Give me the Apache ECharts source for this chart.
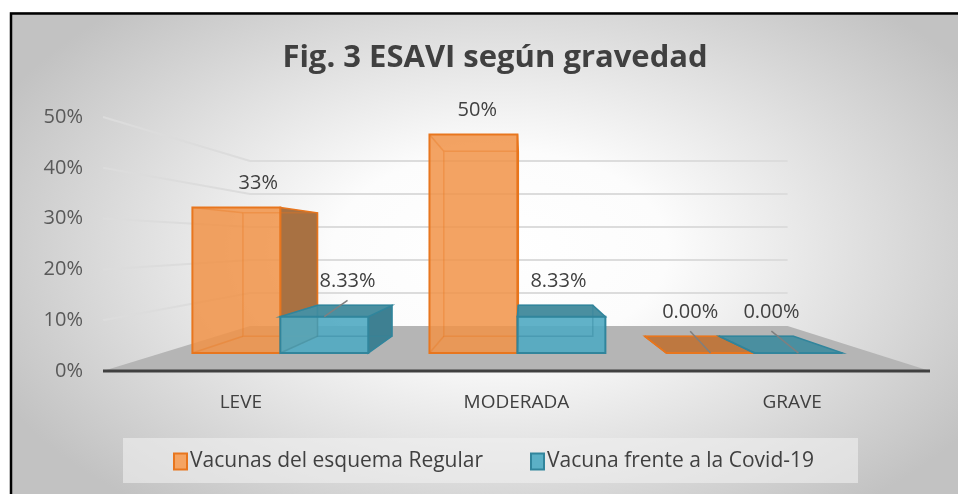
<!DOCTYPE html>
<html>
<head>
<meta charset="utf-8">
<title>ESAVI según gravedad</title>
<script src="https://cdn.jsdelivr.net/npm/echarts@6.0.0/dist/echarts.min.js"></script>
<style>
  html, body { margin: 0; padding: 0; background: #fff; }
  #chart { width: 958px; height: 494px; }
</style>
</head>
<body>
<div id="chart"></div>
<script>
// datos
var categorias = ['LEVE', 'MODERADA', 'GRAVE'];
var regular = [0.3333, 0.5, 0];
var covid = [0.0833, 0.0833, 0];
var etiquetasRegular = ['33%', '50%', '0.00%'];
var etiquetasCovid = ['8.33%', '8.33%', '0.00%'];
var ticksY = [0, 0.1, 0.2, 0.3, 0.4, 0.5];
var nombres = ['Vacunas del esquema Regular', 'Vacuna frente a la Covid-19'];

var FONT = '"Open Sans", "Noto Sans", sans-serif';
// punto de fuga (relativo a la rejilla) y profundidades del falso 3D
var VX = 0.508, VY = 0.495;
var K_FRENTE = 0.14, K_FONDO = 0.2715, K_PARED = 0.35;

var colNaranja = {
  frente: 'rgba(241,147,72,0.85)', borde: '#E8761E', lado: '#A87142',
  tapa: '#BE7840', oculto: 'rgba(232,118,30,0.35)', icono: '#F5A462'
};
var colAzul = {
  frente: 'rgba(80,170,194,0.9)', borde: '#31859C', lado: '#3E8092',
  tapa: '#4A8FA0', oculto: 'rgba(49,133,156,0.4)', icono: '#5BB0C6'
};

function proyectar(p, v, k) {
  return [p[0] + (v[0] - p[0]) * k, p[1] + (v[1] - p[1]) * k];
}

function fuga(cs) {
  return [cs.x + cs.width * VX, cs.y + cs.height * VY];
}

// suelo, paredes y linea del eje
function dibujarEscena(params, api) {
  var cs = params.coordSys;
  var v = fuga(cs);
  var x0 = cs.x, x1 = cs.x + cs.width;
  var y0 = api.coord([0, 0])[1];
  var hijos = [];
  hijos.push({
    type: 'polygon',
    shape: { points: [[x0, y0], proyectar([x0, y0], v, K_PARED), proyectar([x1, y0], v, K_PARED), [x1, y0]] },
    style: { fill: '#b5b5b5' }
  });
  ticksY.forEach(function (t) {
    if (t === 0) return;
    var y = api.coord([0, t])[1];
    var a = proyectar([x0, y], v, K_PARED);
    var b = proyectar([x1, y], v, K_PARED);
    hijos.push({
      type: 'polyline',
      shape: { points: [[x0, y], a, b] },
      style: { stroke: '#dcdcdc', lineWidth: 2, fill: null }
    });
  });
  hijos.push({
    type: 'line',
    shape: { x1: x0, y1: y0, x2: x1, y2: y0 },
    style: { stroke: '#404040', lineWidth: 3 }
  });
  return { type: 'group', children: hijos };
}

// cajas 3D para cada serie (lado -1 = izquierda del grupo, 1 = derecha)
function cajas(col, etiquetas, lado) {
  return function (params, api) {
    var cs = params.coordSys;
    var v = fuga(cs);
    var idx = api.value(0), val = api.value(1);
    var ancho = api.size([1, 0])[0] * 0.371;
    var base = api.coord([idx, 0]);
    var xl = lado < 0 ? base[0] - ancho : base[0];
    var xr = xl + ancho;
    var yb = base[1], yt = api.coord([idx, val])[1];

    function cara(k) {
      return {
        lt: proyectar([xl, yt], v, k), rt: proyectar([xr, yt], v, k),
        rb: proyectar([xr, yb], v, k), lb: proyectar([xl, yb], v, k)
      };
    }
    var f = cara(K_FRENTE), b = cara(K_FONDO);
    var hijos = [];

    if (f.rt[0] < v[0]) {
      hijos.push({ type: 'polygon', shape: { points: [f.rt, b.rt, b.rb, f.rb] },
        style: { fill: col.lado, stroke: col.borde, lineWidth: 1.5 } });
    }
    if (f.lt[0] > v[0]) {
      hijos.push({ type: 'polygon', shape: { points: [f.lt, b.lt, b.lb, f.lb] },
        style: { fill: col.lado, stroke: col.borde, lineWidth: 1.5 } });
    }
    var tapaVisible = f.lt[1] > v[1];
    if (tapaVisible) {
      hijos.push({ type: 'polygon', shape: { points: [f.lt, f.rt, b.rt, b.lt] },
        style: { fill: col.tapa, stroke: col.borde, lineWidth: 1.5 } });
    }
    hijos.push({ type: 'polygon', shape: { points: [f.lt, f.rt, f.rb, f.lb] },
      style: { fill: col.frente, stroke: col.borde, lineWidth: 2 } });
    // aristas ocultas vistas a traves
    hijos.push({ type: 'polyline', shape: { points: [b.lt, b.rt, b.rb, b.lb, b.lt] },
      style: { stroke: col.oculto, lineWidth: 1.5, fill: null } });
    hijos.push({ type: 'polyline', shape: { points: [f.lt, b.lt] }, style: { stroke: col.oculto, lineWidth: 1.5, fill: null } });
    hijos.push({ type: 'polyline', shape: { points: [f.lb, b.lb] }, style: { stroke: col.oculto, lineWidth: 1.5, fill: null } });

    // etiqueta
    var fc = [(f.lt[0] + f.rt[0]) / 2, f.lt[1]];
    var bc = [(b.lt[0] + b.rt[0]) / 2, b.lt[1]];
    var lx = (fc[0] + bc[0]) / 2;
    var ly = Math.min(fc[1], bc[1]) - 24;
    if (tapaVisible && Math.abs(lx - fc[0]) > 8) {
      lx += (lx > fc[0] ? 8 : -6);
      hijos.push({ type: 'line', shape: { x1: fc[0], y1: fc[1], x2: lx, y2: ly + 19 },
        style: { stroke: '#7f7f7f', lineWidth: 1.5 } });
    }
    hijos.push({ type: 'text', style: {
      text: etiquetas[idx], x: lx, y: ly, align: 'center', verticalAlign: 'middle',
      fill: '#404040', fontSize: 20, fontFamily: FONT
    } });
    return { type: 'group', children: hijos };
  };
}

var chart = echarts.init(document.getElementById('chart'));

var option = {
  animation: false,
  title: {
    text: 'Fig. 3 ESAVI según gravedad',
    left: 490,
    textAlign: 'center',
    top: 38,
    textStyle: { fontSize: 31, fontWeight: 'bold', color: '#404040', fontFamily: FONT }
  },
  graphic: [
    {
      type: 'rect', z: -100, x: 500, y: 250, scaleX: 560, scaleY: 330,
      shape: { x: -1, y: -1, width: 2, height: 2 },
      style: {
        fill: {
          type: 'radial', x: 0.5, y: 0.5, r: 0.5,
          colorStops: [
            { offset: 0, color: '#ffffff' },
            { offset: 0.3, color: '#fcfcfc' },
            { offset: 1, color: '#c2c2c2' }
          ]
        }
      },
      silent: true
    },
    { type: 'rect', z: -99, shape: { x: 0, y: 0, width: 958, height: 12 }, style: { fill: '#fff' }, silent: true },
    { type: 'rect', z: -99, shape: { x: 0, y: 0, width: 10, height: 494 }, style: { fill: '#fff' }, silent: true },
    { type: 'rect', z: -98, shape: { x: 11, y: 13.5, width: 970, height: 500 },
      style: { fill: null, stroke: '#000', lineWidth: 2.5 }, silent: true },
    { type: 'rect', z: 1, shape: { x: 123, y: 438, width: 735, height: 45 },
      style: { fill: 'rgba(240,240,240,0.6)' }, silent: true }
  ],
  legend: {
    left: 173,
    top: 451,
    padding: 0,
    itemGap: 47,
    itemWidth: 13,
    itemHeight: 16,
    icon: 'rect',
    textStyle: { fontSize: 21, color: '#404040', fontFamily: FONT, padding: [0, 0, 0, -2] },
    data: [
      { name: nombres[0], itemStyle: { color: colNaranja.icono, borderColor: colNaranja.borde, borderWidth: 2 } },
      { name: nombres[1], itemStyle: { color: colAzul.icono, borderColor: colAzul.borde, borderWidth: 2 } }
    ]
  },
  grid: { left: 103, right: 28, top: 117, bottom: 123 },
  xAxis: {
    type: 'category',
    data: categorias,
    axisLine: { show: false },
    axisTick: { show: false },
    axisLabel: { color: '#404040', fontSize: 19, margin: 22, fontFamily: FONT }
  },
  yAxis: {
    type: 'value',
    min: 0,
    max: 0.5,
    interval: 0.1,
    splitLine: { show: false },
    axisLine: { show: false },
    axisTick: { show: false },
    axisLabel: {
      color: '#595959', fontSize: 20, margin: 20, fontFamily: FONT,
      formatter: function (v) { return Math.round(v * 100) + '%'; }
    }
  },
  series: [
    {
      name: 'escena',
      type: 'custom',
      silent: true,
      renderItem: dibujarEscena,
      data: [[0, 0]],
      encode: { x: 0, y: 1 }
    },
    {
      name: nombres[0],
      type: 'custom',
      itemStyle: { color: colNaranja.icono },
      renderItem: cajas(colNaranja, etiquetasRegular, -1),
      data: regular.map(function (v, i) { return [i, v]; }),
      encode: { x: 0, y: 1 }
    },
    {
      name: nombres[1],
      type: 'custom',
      itemStyle: { color: colAzul.icono },
      renderItem: cajas(colAzul, etiquetasCovid, 1),
      data: covid.map(function (v, i) { return [i, v]; }),
      encode: { x: 0, y: 1 }
    }
  ]
};

chart.setOption(option);
</script>
</body>
</html>
